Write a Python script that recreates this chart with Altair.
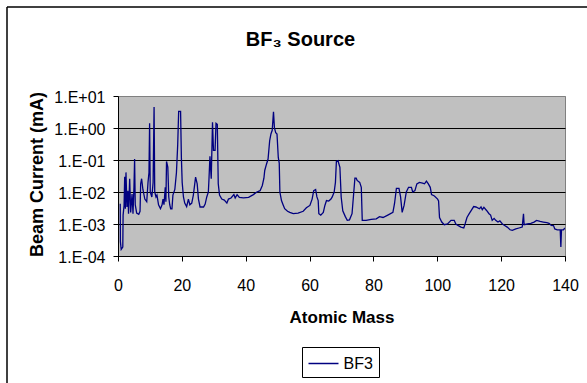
import altair as alt
import pandas as pd

# ---- data ----
mass = [
    0.7, 0.75, 1.0, 1.5, 1.6, 1.9, 2.1, 2.3, 2.5, 2.8, 3.1, 3.3, 3.66, 3.97, 4.4, 4.7, 5.0, 5.2, 5.4,
    5.85, 6.5, 6.9, 7.1, 7.4, 7.8, 8.4, 9.0, 9.4, 9.7, 9.9, 10.1, 10.6, 11.0, 11.3, 11.5, 11.9, 12.2,
    12.7, 13.3, 13.8, 14.1, 14.4, 14.8, 15.0, 15.2, 15.6, 15.9, 16.2, 16.5, 16.9, 17.2, 17.8, 18.3,
    18.7, 19.0, 19.6, 19.85, 20.1, 20.5, 20.9, 21.5, 22.05, 22.5, 23.1, 23.6, 24.3, 24.8, 25.2, 25.7,
    26.8, 27.3, 27.8, 28.3, 28.5, 28.8, 29.2, 29.6, 29.9, 30.4, 30.7, 31.1, 31.4, 31.8, 32.5, 33.3,
    34.1, 34.6, 35.4, 36.3, 36.7, 37.3, 38.0, 39.3, 40.9, 42.4, 43.5, 44.5, 45.2, 45.7, 45.96, 46.5,
    47.0, 47.5, 47.9, 48.3, 48.7, 49.0, 49.4, 49.8, 50.2, 50.5, 50.7, 51.2, 51.7, 52.2, 53.1, 53.8,
    54.9, 56.4, 58.0, 59.0, 60.1, 60.8, 61.3, 61.9, 62.3, 62.7, 62.9, 63.5, 64.3, 64.8, 65.3, 66.0,
    66.7, 67.1, 67.7, 68.1, 68.4, 68.9, 69.5, 69.9, 70.4, 71.2, 71.8, 72.5, 73.3, 73.8, 74.2, 74.6,
    74.9, 75.7, 76.2, 76.5, 77.7, 79.3, 80.9, 81.9, 83.0, 84.5, 86.1, 86.6, 87.2, 88.0, 88.5, 89.0,
    89.6, 90.3, 91.0, 91.9, 92.3, 93.0, 93.6, 94.4, 95.4, 96.0, 96.6, 97.2, 97.8, 98.2, 99.1, 100.1,
    100.4, 100.7, 101.4, 102.2, 103.2, 104.3, 105.3, 105.8, 106.6, 107.4, 108.3, 108.7, 109.3, 110.0,
    110.6, 111.4, 112.1, 113.2, 113.7, 114.1, 114.6, 115.5, 116.2, 116.7, 117.2, 117.8, 118.3, 119.0,
    119.6, 120.4, 121.1, 121.9, 122.8, 123.5, 124.6, 125.6, 126.6, 127.0, 127.2, 128.2, 129.3, 130.3,
    131.1, 132.2, 133.2, 134.3, 135.0, 135.7, 136.4, 136.8, 137.6, 138.5, 138.7, 138.9, 139.5, 140.0,
]
current = [
    4.3e-3, 2.8e-4, 1.6e-4, 1.9e-4, 1.9e-3, 3.8e-3, 0.030, 3.0e-3, 0.041, 3.4e-3, 0.011, 2.1e-3, 0.026,
    2.3e-3, 8.7e-3, 2.1e-3, 0.014, 0.107, 4.0e-3,
    2.2e-3, 2.0e-3, 2.5e-3, 0.018, 0.026, 0.012, 6.0e-3, 5.0e-3, 0.020, 0.040, 1.4, 0.010, 7.0e-3,
    0.020, 4.5, 0.010, 7.0e-3, 8.0e-3,
    4.0e-3, 3.0e-3, 4.0e-3, 6.0e-3, 4.0e-3, 0.014, 5.0e-3, 0.090, 0.060, 7.0e-3, 4.0e-3, 3.0e-3,
    3.0e-3, 8.0e-3, 0.012, 0.040,
    0.30, 3.3, 3.3, 0.12, 0.020, 7.0e-3, 4.5e-3, 3.5e-3, 6.0e-3, 4.0e-3, 4.5e-3, 8.0e-3, 0.029, 0.018,
    6.0e-3, 3.4e-3,
    3.4e-3, 4.2e-3, 7.0e-3, 0.010, 0.026, 0.13, 0.026, 1.5, 0.20, 0.20, 1.4, 1.3, 0.018, 8.0e-3,
    6.0e-3, 5.6e-3,
    4.5e-3, 6.0e-3, 6.5e-3, 8.3e-3, 6.5e-3, 8.3e-3, 6.8e-3, 6.6e-3, 6.8e-3, 8.3e-3, 0.010, 0.011,
    0.016, 0.027, 0.047, 0.074,
    0.107, 0.40, 0.65, 0.85, 3.2, 1.0, 0.72, 0.65, 0.12, 0.080, 0.010, 5.4e-3, 4.0e-3, 3.0e-3,
    2.5e-3, 2.3e-3,
    2.1e-3, 2.2e-3, 2.5e-3, 3.2e-3, 3.8e-3, 6.0e-3, 0.011, 0.012, 7.0e-3, 5.4e-3, 2.1e-3, 1.9e-3,
    2.3e-3, 3.8e-3, 5.4e-3, 5.2e-3,
    6.0e-3, 7.0e-3, 0.010, 0.020, 0.090, 0.095, 0.059, 7.0e-3, 2.6e-3, 1.7e-3, 1.3e-3, 1.35e-3,
    2.1e-3, 8.7e-3, 0.027, 0.027,
    0.023, 0.020, 0.014, 1.3e-3, 1.3e-3, 1.4e-3, 1.45e-3, 1.7e-3, 1.6e-3, 1.9e-3, 2.3e-3, 4.3e-3,
    0.013, 0.013, 7.0e-3, 2.3e-3,
    3.8e-3, 0.010, 0.014, 0.014, 0.010, 0.011, 0.018, 0.020, 0.019, 0.018, 0.022, 0.018, 0.014,
    8.3e-3, 7.5e-3, 6.0e-3,
    5.3e-3, 1.6e-3, 1.15e-3, 9.5e-4, 1.0e-3, 1.3e-3, 1.3e-3, 1.0e-3, 8.9e-4, 8.0e-4, 7.5e-4, 1.0e-3,
    1.6e-3, 2.1e-3,
    2.6e-3, 3.5e-3, 3.4e-3, 3.0e-3, 3.4e-3, 2.8e-3, 3.3e-3, 2.6e-3, 2.1e-3, 1.9e-3, 1.3e-3, 1.5e-3,
    1.3e-3, 1.15e-3,
    1.25e-3, 1.0e-3, 9.0e-4, 8.0e-4, 6.6e-4, 6.3e-4, 7.0e-4, 7.5e-4, 8.0e-4, 2.1e-3, 9.5e-4, 1.0e-3,
    1.05e-3, 1.15e-3,
    1.3e-3, 1.2e-3, 1.15e-3, 1.1e-3, 1.05e-3, 9.0e-4, 8.9e-4, 7.0e-4, 6.6e-4, 6.6e-4, 1.9e-4, 6.6e-4,
    6.6e-4, 7.5e-4,
]
series_name = "BF3"
x_tick_values = [0, 20, 40, 60, 80, 100, 120, 140]
y_tick_values = [1e-4, 1e-3, 1e-2, 1e-1, 1, 10]
y_tick_labels = ["1.E-04", "1.E-03", "1.E-02", "1.E-01", "1.E+00", "1.E+01"]

df = pd.DataFrame({"mass": mass, "current": current, "series": series_name})

# label expression built from the tick arrays
expr = "''"
for v, lab in reversed(list(zip(y_tick_values, y_tick_labels))):
    expr = f"datum.value < {v * 1.5} ? '{lab}' : ({expr})"

FONT = "Liberation Sans"

line = alt.Chart(df).mark_line(strokeWidth=1.3, clip=True).encode(
    x=alt.X(
        "mass:Q",
        scale=alt.Scale(domain=[0, 140], nice=False),
        axis=alt.Axis(
            values=x_tick_values, grid=False, title="Atomic Mass",
            titleFontSize=17, titleFontWeight="bold", titleY=66, titleBaseline="alphabetic",
            labelFontSize=16, labelBaseline="alphabetic", labelPadding=29, labelFlush=False,
            tickSize=5, format="d",
        ),
    ),
    y=alt.Y(
        "current:Q",
        scale=alt.Scale(type="log", domain=[1e-4, 10], nice=False),
        axis=alt.Axis(
            values=y_tick_values, labelExpr=expr, grid=True,
            gridColor=alt.condition("datum.value > 5", alt.value("#808080"), alt.value("black")),
            gridWidth=1, title="Beam Current (mA)",
            titleFontSize=18, titleFontWeight="bold", titleX=-76, titleY=78,
            titleBaseline="alphabetic", titleAlign="center",
            labelFontSize=16, labelPadding=8, labelOffset=1, labelFlush=False, tickSize=5,
        ),
    ),
    color=alt.Color(
        "series:N",
        scale=alt.Scale(domain=[series_name], range=["#000080"]),
        legend=alt.Legend(
            title=None, orient="none", legendX=184, legendY=251,
            symbolType="M-1,0H2", symbolSize=400, symbolStrokeWidth=1.5,
            labelFontSize=16, labelOffset=14, padding=5.5,
            strokeColor="black", fillColor="white",
        ),
    ),
)

frame_df = pd.DataFrame({"k": [0]})
frame_v = alt.Chart(frame_df).mark_rule(color="black", strokeWidth=1.5).encode(
    x=alt.value(-111), y=alt.value(-89), y2=alt.value(400)
)
frame_h = alt.Chart(frame_df).mark_rule(color="black", strokeWidth=1.5).encode(
    x=alt.value(-111), x2=alt.value(600), y=alt.value(-89)
)

chart = alt.layer(line, frame_v, frame_h).properties(
    width=447, height=160,
    title=alt.TitleParams(
        "BF₃ Source", fontSize=20, fontWeight="bold", font=FONT, anchor="middle",
        dx=-41, dy=60, offset=0, baseline="alphabetic", color="black",
    ),
    autosize=alt.AutoSizeParams(type="none"),
    padding={"left": 118, "top": 96, "right": 22, "bottom": 127},
    background="white",
).configure_view(
    fill="#C0C0C0", stroke="#808080", strokeWidth=1
).configure_axis(
    labelFont=FONT, titleFont=FONT, labelColor="black", titleColor="black",
    domainColor="black", tickColor="black", domainWidth=1,
).configure_legend(
    labelFont=FONT, labelColor="black"
)

chart.save("out.html", embed_options={"renderer": "svg", "actions": False})
